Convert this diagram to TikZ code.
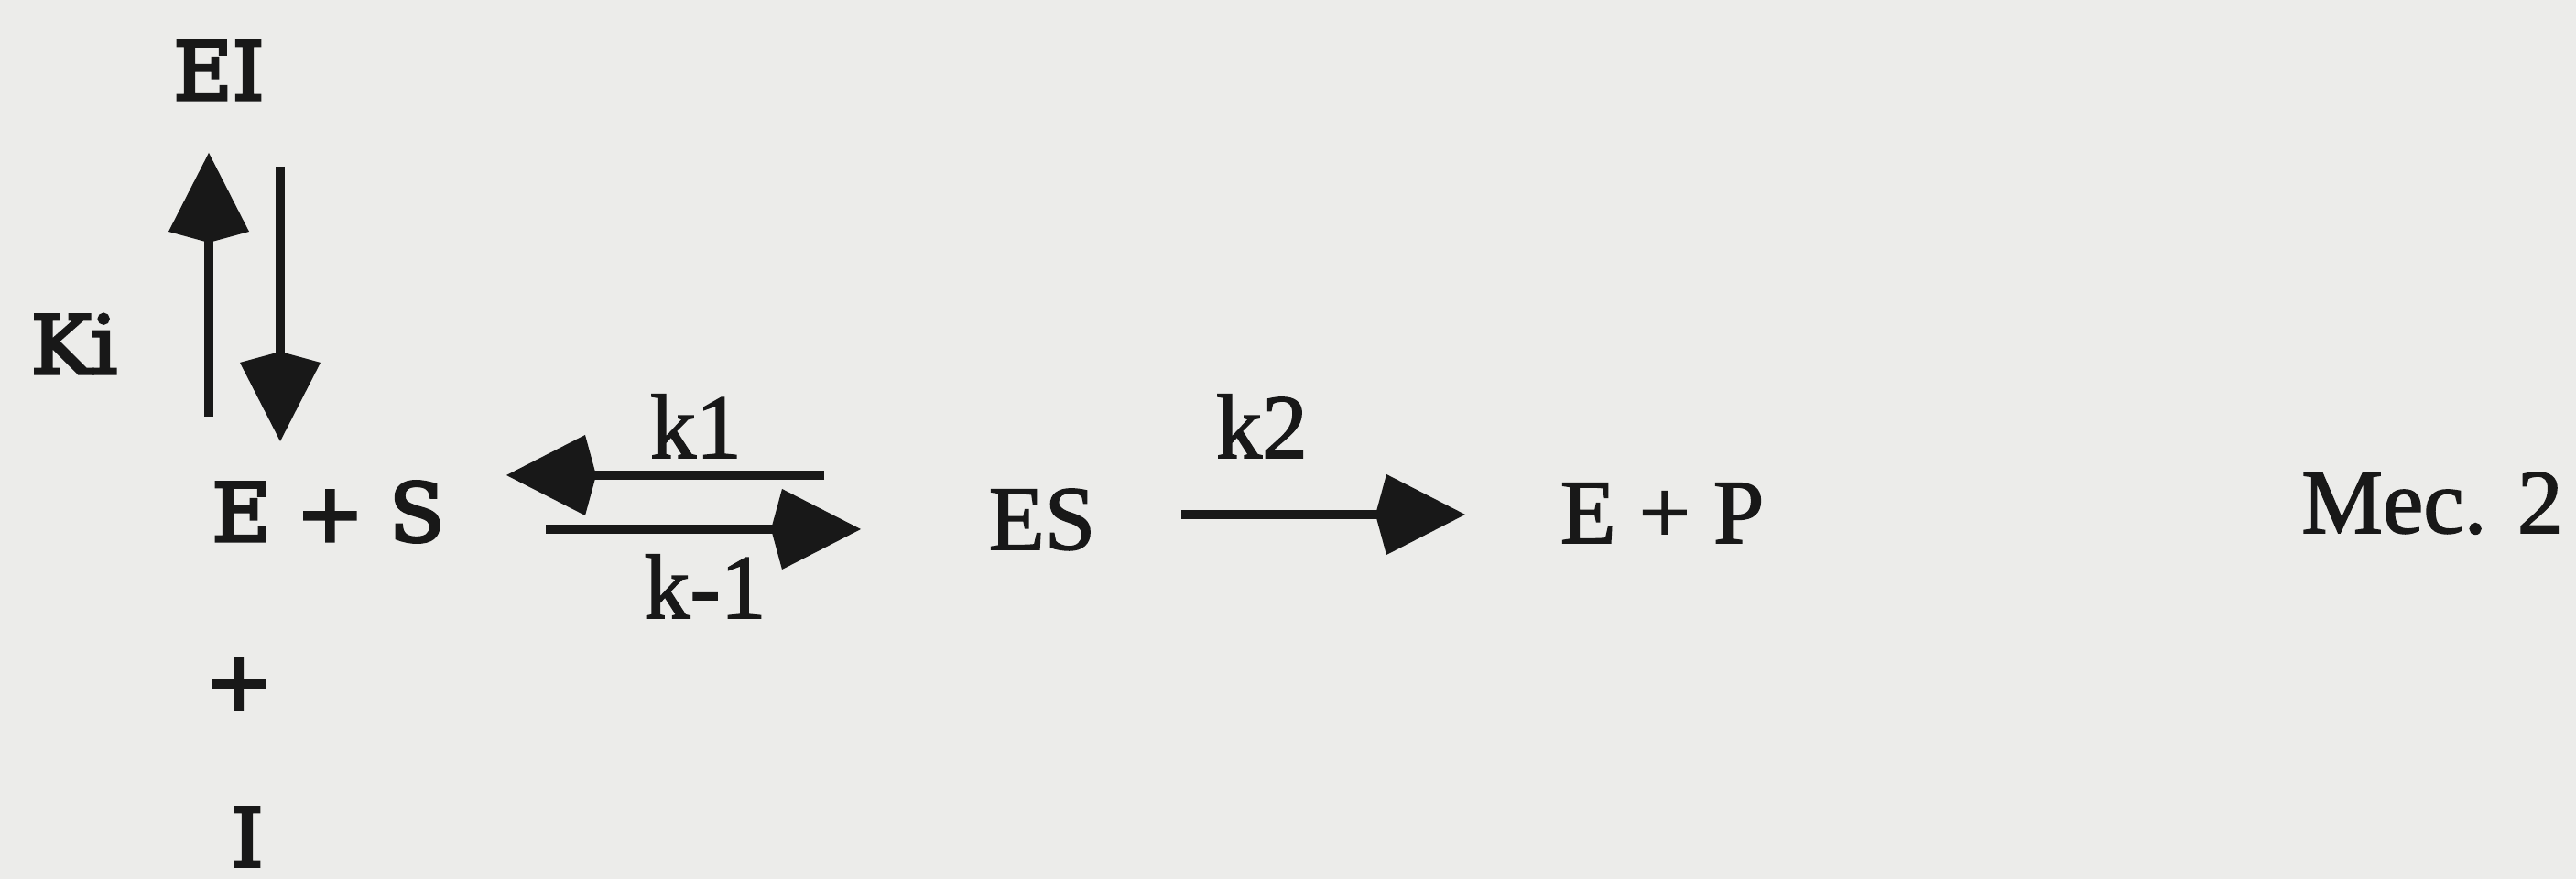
\documentclass[tikz,border=0pt]{standalone}
\usepackage{fontspec}
\setmainfont{Liberation Serif}
\newfontfamily\rightfont{Liberation Serif}[FakeBold=1.6]
\newfontfamily\schoolfont{DejaVu Serif}[FakeBold=4]
\usetikzlibrary{arrows.meta}
\definecolor{paper}{RGB}{236,236,234}
\definecolor{ink}{RGB}{24,24,24}

\begin{document}
\begin{tikzpicture}[
  species/.style={inner sep=0pt, anchor=base, text=ink, font=\rightfont\fontsize{14.2}{17}\selectfont},
  leftsp/.style={species, font=\schoolfont\fontsize{12.5}{15}\selectfont},
  rxn/.style={draw=ink, line width=0.48mm, -{Kite[length=4.9mm, width=4.4mm, inset=0.6mm]}}
]
\clip (0,0) rectangle (14.065,4.8);
\fill[paper] (0,0) rectangle (14.065,4.8);

% inhibitor branch
\node[leftsp] (ei) at (1.195,4.255) {EI};
\node[leftsp] (ki) at (0.405,2.76) {Ki};
\node[leftsp] (es0) at (1.7925,1.845) {E + S};
\node[leftsp] (plus) at (1.305,0.925) {+};
\node[leftsp] (inh) at (1.35,0.07) {I};

% main reaction
\node[species] (k1) at (3.80,2.30) {k1};
\node[species] (km1) at (3.85,1.425) {k-1};
\node[species] (es) at (5.69,1.80) {ES};
\node[species] (k2) at (6.89,2.30) {k2};
\node[species] (ep) at (9.075,1.835) {E + P};
\node[species] (mec) at (13.28,1.89) {Mec. 2};

% arrow ends
\coordinate (upS) at (1.14,2.525);
\coordinate (upT) at (1.14,3.965);
\coordinate (dnS) at (1.53,3.89);
\coordinate (dnT) at (1.53,2.39);
\coordinate (bwS) at (4.50,2.205);
\coordinate (bwT) at (2.765,2.205);
\coordinate (fwS) at (2.98,1.91);
\coordinate (fwT) at (4.70,1.91);
\coordinate (catS) at (6.45,1.99);
\coordinate (catT) at (8.00,1.99);

\draw[rxn] (upS) -- (upT);
\draw[rxn] (dnS) -- (dnT);
\draw[rxn] (bwS) -- (bwT);
\draw[rxn] (fwS) -- (fwT);
\draw[rxn] (catS) -- (catT);
\end{tikzpicture}
\end{document}
